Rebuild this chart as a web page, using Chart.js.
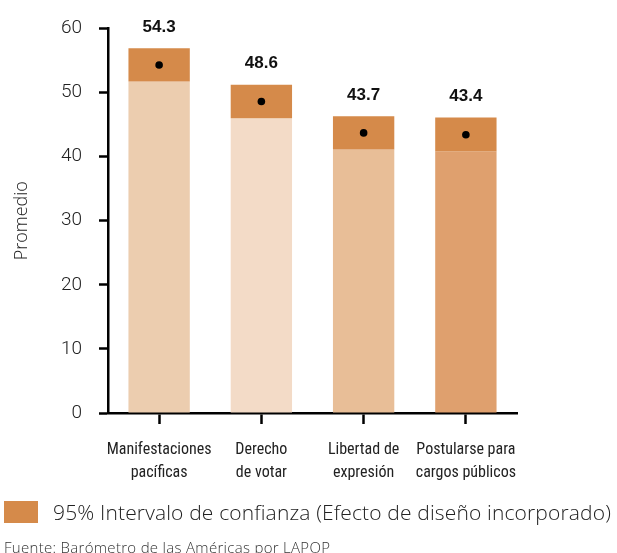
<!DOCTYPE html>
<html lang="es">
  <head>
    <meta charset="UTF-8" />
    <title>Promedio por derecho</title>
    <script src="https://cdn.jsdelivr.net/npm/chart.js"></script>
    <style>
      html, body { margin: 0; padding: 0; background: #fff; }
      #wrap { position: relative; width: 617px; height: 553px; overflow: hidden; }
      #chart { position: absolute; left: 0; top: 0; }
      .legend {
        position: absolute; left: 4px; top: 501px; height: 22px; line-height: 22px;
        display: flex; align-items: center;
        font-family: 'Open Sans', 'Liberation Sans', sans-serif; font-weight: 300;
        font-size: 21px; letter-spacing: 0.15px; color: #222; white-space: nowrap;
      }
      .legend .swatch { width: 34px; height: 22px; background: #d58a4a; margin-right: 15px; }
      .source {
        position: absolute; left: 4px; top: 538px; line-height: 18px;
        font-family: 'Open Sans', 'Liberation Sans', sans-serif; font-weight: 300;
        font-size: 15px; letter-spacing: 0.3px; color: #333; white-space: nowrap;
      }
    </style>
  </head>
  <body>
    <div id="wrap">
      <canvas id="chart" width="617" height="553"></canvas>
      <div class="legend"><span class="swatch"></span>95% Intervalo de confianza (Efecto de diseño incorporado)</div>
      <div class="source">Fuente: Barómetro de las Américas por LAPOP</div>
    </div>

    <script>
      // data
      const categories = [['Manifestaciones', 'pacíficas'], ['Derecho', 'de votar'], ['Libertad de', 'expresión'], ['Postularse para', 'cargos públicos']];
      const means = [54.3, 48.6, 43.7, 43.4];
      const ciLow = [51.7, 46.0, 41.1, 40.8];
      const ciHigh = [56.9, 51.2, 46.3, 46.1];
      const yTicks = [0, 10, 20, 30, 40, 50, 60];

      const barColors = ['#eccdaf', '#f3dbc7', '#e8be97', '#dfa06e'];
      const ciColor = '#d58a4a';

      const valueLabels = {
        id: 'valueLabels',
        afterDatasetsDraw(chart) {
          const { ctx } = chart;
          const y = chart.scales.y;
          const x = chart.scales.x;
          ctx.save();
          ctx.font = 'bold 17px "Liberation Sans", Arial, sans-serif';
          ctx.fillStyle = '#111';
          ctx.textAlign = 'center';
          ctx.textBaseline = 'middle';
          means.forEach((m, i) => {
            ctx.fillText(m.toFixed(1), x.getPixelForValue(i), y.getPixelForValue(ciHigh[i]) - 21);
          });
          ctx.restore();
        }
      };

      new Chart(document.getElementById('chart'), {
        type: 'bar',
        data: {
          labels: categories,
          datasets: [
            {
              type: 'line',
              data: means,
              showLine: false,
              pointRadius: 3.8,
              pointBackgroundColor: '#000',
              pointBorderWidth: 0,
              order: 0
            },
            {
              data: ciLow.map((l, i) => [l, ciHigh[i]]),
              backgroundColor: ciColor,
              grouped: false,
              barPercentage: 0.6,
              categoryPercentage: 1,
              order: 1
            },
            {
              data: ciLow,
              backgroundColor: barColors,
              grouped: false,
              barPercentage: 0.6,
              categoryPercentage: 1,
              order: 2
            }
          ]
        },
        options: {
          responsive: false,
          animation: false,
          layout: { padding: { top: 28, right: 100, bottom: 73, left: 0 } },
          plugins: { legend: { display: false }, tooltip: { enabled: false } },
          scales: {
            x: {
              afterFit(s) { s.height = 67; },
              grid: { offset: false, drawOnChartArea: false, tickLength: 11, tickWidth: 2.5, tickColor: '#000' },
              border: { color: '#000', width: 2.5 },
              ticks: {
                padding: 14,
                autoSkip: false,
                minRotation: 0,
                maxRotation: 0,
                color: '#222',
                font: { family: '"Liberation Sans Narrow", "Roboto Condensed", "Roboto", sans-serif', size: 16, lineHeight: 1.45 }
              }
            },
            y: {
              min: 0,
              max: 60,
              afterFit(s) { s.width = 108; },
              afterBuildTicks(s) { s.ticks = yTicks.map(v => ({ value: v })); },
              grid: { drawOnChartArea: false, tickLength: 9, tickWidth: 2.5, tickColor: '#000' },
              border: { color: '#000', width: 2.5 },
              ticks: {
                padding: 17,
                color: '#222',
                font: { family: 'Roboto, "Liberation Sans", sans-serif', weight: 300, size: 19 }
              },
              title: {
                display: true,
                text: 'Promedio',
                color: '#222',
                padding: { top: 11, bottom: 0 },
                font: { family: '"Open Sans", "Liberation Sans", sans-serif', weight: 300, size: 18 }
              }
            }
          }
        },
        plugins: [valueLabels]
      });
    </script>
  </body>
</html>
